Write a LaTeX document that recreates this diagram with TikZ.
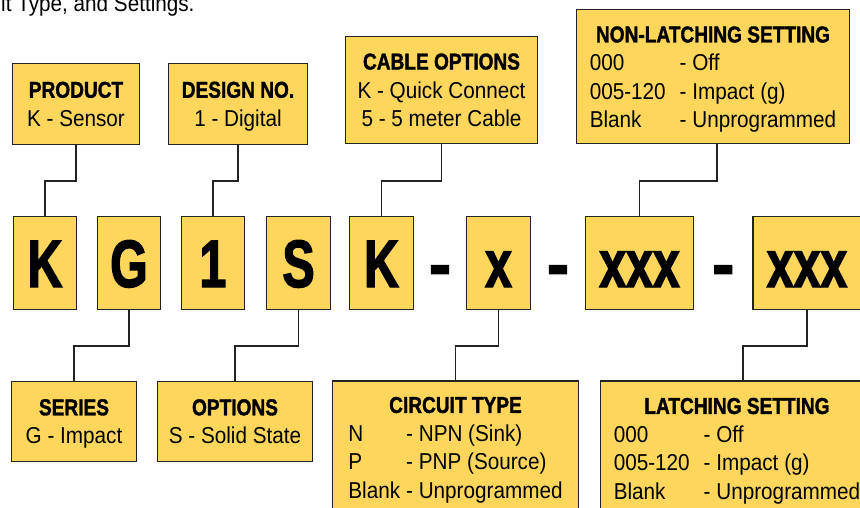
\documentclass[tikz,border=0pt]{standalone}
\usepackage{fontspec}
\setmainfont{Liberation Sans}[UprightFeatures={FakeStretch=0.9}, BoldFeatures={FakeStretch=0.83, FakeBold=1.5}]
\newfontfamily\codefont{Liberation Sans}[UprightFeatures={FakeStretch=0.72}, BoldFeatures={FakeStretch=0.72, FakeBold=2}]
\newfontfamily\sepfont{Liberation Sans}[BoldFeatures={FakeBold=2}]
\usetikzlibrary{positioning}
\usepackage{xcolor}
\definecolor{boxyellow}{RGB}{254,214,92}
\definecolor{lineblack}{RGB}{35,35,35}
\newcommand{\setrows}[2]{\raisebox{-3pt}[\height][\depth]{\begin{tabular}{#1}#2\end{tabular}}}

\begin{document}
\begin{tikzpicture}[
  x=1pt, y=-1pt,
  box/.style={rectangle, draw=lineblack, fill=boxyellow, line width=1.4pt, inner sep=0pt, align=center, font=\fontsize{23}{28.5}\selectfont},
  digit/.style={box, minimum width=63pt, minimum height=93pt, text height=48pt, text depth=0pt, font=\codefont\bfseries\fontsize{67}{67}\selectfont},
  hyph/.style={inner sep=0pt, text height=48pt, text depth=0pt, font=\sepfont\bfseries\fontsize{67}{67}\selectfont},
  link/.style={line width=1.4pt, draw=lineblack}
]
\useasboundingbox (0,0) rectangle (860,508);
\clip (0,0) rectangle (860,508);

\node[anchor=base west, inner sep=0pt, font=\fontsize{23}{28.5}\selectfont] (intro) at (1,12) {it Type, and Settings.};

\node[digit] (k1) at (45,263) {K};
\node[digit] (g) at (129,263) {G};
\node[digit] (one) at (213,263) {1};
\node[digit, minimum width=64pt] (s) at (298.5,263) {S};
\node[digit, minimum width=64pt] (k2) at (381.5,263) {K};
\node[digit, minimum width=64pt] (x) at (498.5,263) {x};
\node[digit, minimum width=108pt] (xxx1) at (639.5,263) {xxx};
\node[digit, minimum width=108pt] (xxx2) at (807,263) {xxx};
\path (k2.east) -- node[hyph] (sep1) {-} (x.west);
\path (x.east) -- node[hyph] (sep2) {-} (xxx1.west);
\path (xxx1.east) -- node[hyph] (sep3) {-} (xxx2.west);

\node[box, minimum width=127pt, minimum height=81pt, text depth=0pt] (prod) at (76,104) {\textbf{PRODUCT}\\K - Sensor};
\node[box, minimum width=139pt, minimum height=81pt, text depth=0pt] (design) at (238,104) {\textbf{DESIGN NO.}\\1 - Digital};
\node[box, minimum width=192pt, minimum height=107pt, text depth=0pt] (cable) at (441.5,90) {\textbf{CABLE OPTIONS}\\K - Quick Connect\\5 - 5 meter Cable};
\node[box, minimum width=273pt, minimum height=134pt] (nonlatch) at (713,76.5) {\setrows{@{}l@{\hspace{14pt}}l@{}}{\multicolumn{2}{c}{\textbf{NON-LATCHING SETTING}}\\000 & - Off\\005-120 & - Impact (g)\\Blank & - Unprogrammed}};

\node[box, minimum width=125pt, minimum height=80pt, text depth=0pt] (series) at (74,421.5) {\textbf{SERIES}\\G - Impact};
\node[box, minimum width=155pt, minimum height=80pt, text depth=0pt] (opts) at (235,421.5) {\textbf{OPTIONS}\\S - Solid State};
\node[box, minimum width=246pt, minimum height=132pt] (circuit) at (455.5,447) {\setrows{@{}l@{\hspace{6pt}}l@{}}{\multicolumn{2}{c}{\textbf{CIRCUIT TYPE}}\\N & - NPN (Sink)\\P & - PNP (Source)\\Blank & - Unprogrammed}};
\node[box, minimum width=273pt, minimum height=134pt] (latch) at (737,448) {\setrows{@{}l@{\hspace{14pt}}l@{}}{\multicolumn{2}{c}{\textbf{LATCHING SETTING}}\\000 & - Off\\005-120 & - Impact (g)\\Blank & - Unprogrammed}};

\coordinate (upbus) at (0,181);
\coordinate (lowbus) at (0,346);
\draw[link] (prod.south) -- (prod.south |- upbus) -| (k1.north);
\draw[link] (design.south) -- (design.south |- upbus) -| (one.north);
\draw[link] (cable.south) -- (cable.south |- upbus) -| (k2.north);
\draw[link] ([xshift=4pt]nonlatch.south) -- ([xshift=4pt]nonlatch.south |- upbus) -| (xxx1.north);
\draw[link] (g.south) -- (g.south |- lowbus) -| (series.north);
\draw[link] (s.south) -- (s.south |- lowbus) -| (opts.north);
\draw[link] (x.south) -- (x.south |- lowbus) -| (circuit.north);
\draw[link] (xxx2.south) -- (xxx2.south |- lowbus) -| ([xshift=6pt]latch.north);
\end{tikzpicture}
\end{document}
